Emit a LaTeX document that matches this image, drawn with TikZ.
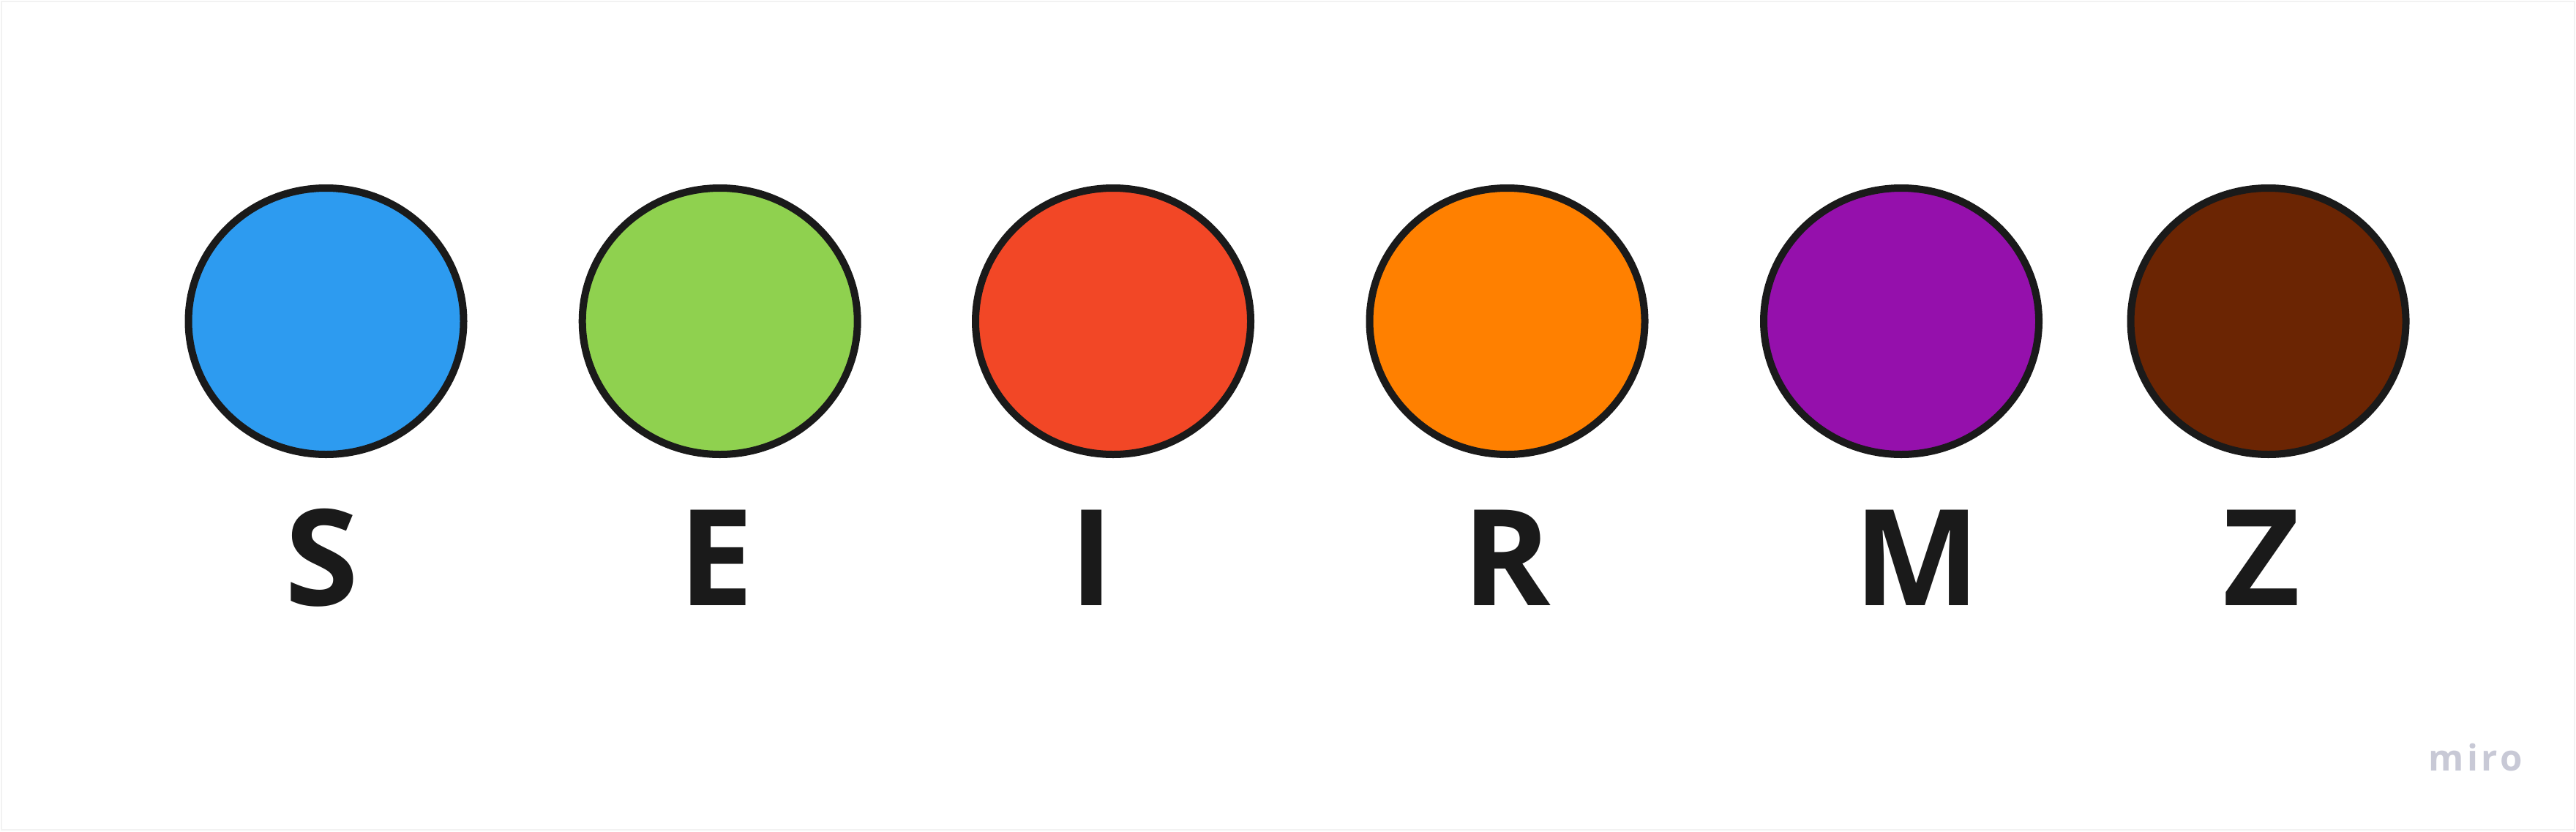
\documentclass[tikz,border=0pt]{standalone}
\usepackage{fontspec}
\setmainfont{Open Sans}
\usepackage{xcolor}
\usepackage{tikz}
\usetikzlibrary{positioning,shapes.geometric}

\definecolor{ink}{HTML}{1A1A1A}
\definecolor{colS}{HTML}{2D9BF0}
\definecolor{colE}{HTML}{8FD14F}
\definecolor{colI}{HTML}{F24726}
\definecolor{colR}{HTML}{FF8000}
\definecolor{colM}{HTML}{9510AC}
\definecolor{colZ}{HTML}{6B2503}
\definecolor{logo}{HTML}{C8C9D6}

\begin{document}
\begin{tikzpicture}[
    compartment/.style={ellipse,draw=ink,line width=0.1cm,minimum width=3.76cm,minimum height=3.64cm,inner sep=0pt},
    complabel/.style={anchor=base,inner sep=0pt,text=ink,font=\fontsize{52}{52}\selectfont\bfseries}]
  \useasboundingbox (0,0) rectangle (35.2,11.36);
  \draw[black!5,line width=0.6pt] (0.02,0.02) rectangle (35.18,11.34);
  \foreach \n/\x/\lx in {S/4.455/4.40,E/9.837/9.79,I/15.21/14.92,R/20.595/20.59,M/25.98/26.20,Z/30.995/30.90}{
    \node[compartment,fill=col\n] (\n) at (\x,6.97) {};
    \node[complabel] (lbl\n) at (\lx,3.09) {\n};
  }
  \node[anchor=base,inner sep=0pt,text=logo,font=\fontsize{14}{14}\selectfont\bfseries] (miro) at (33.83,0.83) {m\kern1.2pt i\kern1.2pt r\kern1.2pt o};
\end{tikzpicture}
\end{document}
